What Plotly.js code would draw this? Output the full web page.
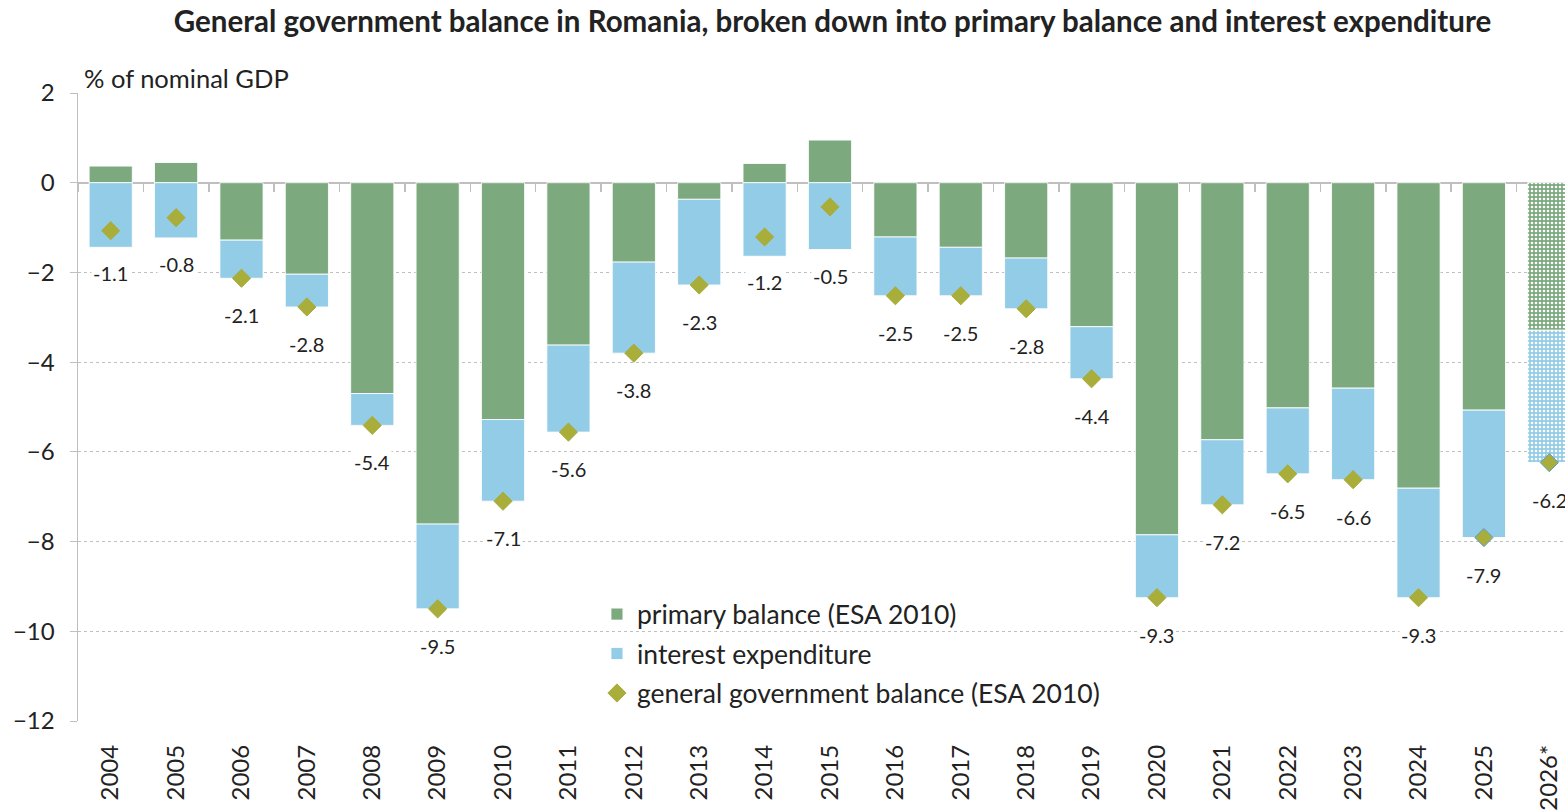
<!DOCTYPE html>
<html>
<head>
<meta charset="utf-8">
<script src="https://cdn.plot.ly/plotly-3.0.1.min.js"></script>
<style>
  html, body { margin: 0; padding: 0; background: #fff; overflow: hidden; }
  #chart { width: 1565px; height: 812px; }
</style>
</head>
<body>
<div id="chart"></div>
<script>
const years = ['2004','2005','2006','2007','2008','2009','2010','2011','2012','2013','2014','2015',
               '2016','2017','2018','2019','2020','2021','2022','2023','2024','2025','2026*'];
const primaryBalance = [0.37, 0.45, -1.28, -2.04, -4.70, -7.61, -5.28, -3.62, -1.77, -0.37, 0.43, 0.95,
                        -1.21, -1.44, -1.68, -3.21, -7.85, -5.73, -5.02, -4.58, -6.81, -5.07, -3.29];
const interestExpenditure = [-1.44, -1.23, -0.85, -0.73, -0.71, -1.89, -1.82, -1.94, -2.03, -1.91, -1.64, -1.49,
                             -1.31, -1.08, -1.13, -1.16, -1.40, -1.45, -1.47, -2.04, -2.44, -2.84, -2.95];
const govBalance = [-1.07, -0.78, -2.13, -2.77, -5.41, -9.50, -7.10, -5.56, -3.80, -2.28, -1.21, -0.54,
                    -2.52, -2.52, -2.81, -4.37, -9.25, -7.18, -6.49, -6.62, -9.25, -7.91, -6.24];
const forecastFlags = years.map(y => y.endsWith('*'));

const GREEN = '#7CA97E';
const BLUE = '#93CCE6';
const OLIVE = '#A9AD3A';
const FONT = 'Lato, "Open Sans", sans-serif';
const TXT = '#222222';

const patternShapes = forecastFlags.map(f => f ? '.' : '');

const traces = [
  {
    type: 'bar', name: 'primary balance (ESA 2010)', x: years, y: primaryBalance,
    legendgroup: 'a',
    marker: { color: GREEN, line: { color: 'rgba(255,255,255,0.85)', width: 1 },
              pattern: { shape: patternShapes, fgcolor: 'white', fgopacity: 1, fillmode: 'overlay', size: 4, solidity: 0.35 } },
    hoverinfo: 'skip'
  },
  {
    type: 'bar', name: 'interest expenditure', x: years, y: interestExpenditure,
    legendgroup: 'b',
    marker: { color: BLUE, line: { color: 'rgba(255,255,255,0.85)', width: 1 },
              pattern: { shape: patternShapes, fgcolor: 'white', fgopacity: 1, fillmode: 'overlay', size: 4, solidity: 0.35 } },
    hoverinfo: 'skip'
  },
  {
    type: 'scatter', mode: 'markers', name: 'general government balance (ESA 2010)', x: years, y: govBalance,
    legendgroup: 'c',
    marker: { symbol: 'diamond', size: 14, color: OLIVE,
              line: { color: years.map((y, i) => i >= years.length - 2 ? '#5B9BD5' : OLIVE), width: 1 } },
    hoverinfo: 'skip'
  },
  {
    type: 'scatter', mode: 'markers', x: years, y: govBalance, xaxis: 'x2', yaxis: 'y',
    marker: { opacity: 0, size: 1 }, showlegend: false, hoverinfo: 'skip'
  }
];

const xRange = [-0.5, 22.24];
// Labels sit below the lowest end of each stacked column
const annotations = years.map((y, i) => {
  const positivePrimary = primaryBalance[i] >= 0;
  return {
    x: i, y: positivePrimary ? interestExpenditure[i] : govBalance[i], xref: 'x', yref: 'y',
    yshift: positivePrimary ? -26 : -37,
    text: govBalance[i].toFixed(1), showarrow: false,
    font: { family: FONT, size: 20, color: TXT },
    bgcolor: 'white', borderpad: 1
  };
});
annotations.push({
  text: '% of nominal GDP', xref: 'paper', yref: 'paper', x: 0.003, y: 1.024,
  xanchor: 'left', yanchor: 'middle', showarrow: false,
  font: { family: FONT, size: 25.5, color: TXT }
});

const layout = {
  width: 1565, height: 812,
  margin: { l: 78, r: 0, t: 93, b: 91 },
  paper_bgcolor: 'white', plot_bgcolor: 'white',
  barmode: 'relative', bargap: 0.34,
  title: {
    text: '<b>General government balance in Romania, broken down into primary balance and interest expenditure</b>',
    xref: 'container', x: 0.532, xanchor: 'center', yref: 'container', y: 0.973, yanchor: 'middle',
    font: { family: FONT, size: 29.5, color: TXT }
  },
  font: { family: FONT, color: TXT },
  xaxis: {
    type: 'category', range: xRange, categoryorder: 'array', categoryarray: years,
    tickangle: -90, ticks: '', ticklabelstandoff: 18,
    tickfont: { family: FONT, size: 24, color: TXT },
    showgrid: false, showline: false, zeroline: false
  },
  xaxis2: {
    type: 'category', range: xRange, categoryorder: 'array', categoryarray: years,
    overlaying: 'x', anchor: 'free', position: 12 / 14,
    ticks: 'outside', tickson: 'boundaries', ticklen: 8, tickcolor: '#BFBFBF', tickwidth: 1.5,
    showticklabels: false, showgrid: false, showline: false, zeroline: false
  },
  yaxis: {
    range: [-12, 2], dtick: 2, tick0: 0,
    showgrid: true, gridcolor: '#BFBFBF', griddash: 'dot', gridwidth: 1,
    zeroline: true, zerolinecolor: '#BFBFBF', zerolinewidth: 2,
    showline: true, linecolor: '#BFBFBF', linewidth: 1.5,
    ticks: 'outside', ticklen: 7, tickcolor: '#BFBFBF',
    ticklabelstandoff: 10,
    tickfont: { family: FONT, size: 24, color: TXT }
  },
  legend: {
    x: 0.349, y: 0.208, xanchor: 'left', yanchor: 'top',
    traceorder: 'grouped', tracegroupgap: 2,
    bgcolor: 'rgba(255,255,255,0)',
    font: { family: FONT, size: 26.5, color: TXT }
  },
  showlegend: true,
  annotations: annotations
};

Plotly.newPlot('chart', traces, layout, { displayModeBar: false, staticPlot: true });
</script>
</body>
</html>
